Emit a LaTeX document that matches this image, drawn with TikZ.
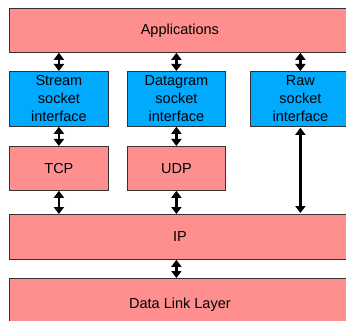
\documentclass[tikz,border=0pt]{standalone}
\usepackage{fontspec}
\setmainfont{Liberation Sans}
\usetikzlibrary{arrows.meta}

\definecolor{layerpink}{HTML}{FF8F8F}
\definecolor{sockblue}{HTML}{00AAFF}
\definecolor{edgegray}{HTML}{333333}

\tikzset{
  layer/.style={draw=edgegray, line width=0.8pt, fill=layerpink, inner sep=0pt,
    anchor=north west, align=center, font=\fontsize{14.5}{18}\selectfont},
  sockbox/.style={layer, fill=sockblue},
  link/.style={line width=2.4pt, {Triangle[width=10pt,length=7pt]}-{Triangle[width=10pt,length=7pt]}}
}

\begin{document}
\begin{tikzpicture}[x=1pt, y=-1pt]
  % Rahmen
  \useasboundingbox (0,0) rectangle (346,321);
  \clip (0,0) rectangle (346,321);

  % Anwendungen
  \node[layer, minimum width=341pt, minimum height=44pt] (app) at (9,8) {Applications};

  % Socket-Schnittstellen
  \node[sockbox, minimum width=99pt, minimum height=55pt] (stream) at (9,71) {Stream\\socket\\interface};
  \node[sockbox, minimum width=98pt, minimum height=55pt] (dgram) at (127,71) {Datagram\\socket\\interface};
  \node[sockbox, minimum width=100pt, minimum height=55pt] (raw) at (250,71) {Raw\\socket\\interface};

  % Transport
  \node[layer, minimum width=99pt, minimum height=44pt] (tcp) at (9,146) {TCP};
  \node[layer, minimum width=98pt, minimum height=44pt] (udp) at (127,146) {UDP};

  % Vermittlung und Sicherung
  \node[layer, minimum width=341pt, minimum height=45pt] (ip) at (9,214) {IP};
  \node[layer, minimum width=341pt, minimum height=52pt] (dll) at (9,278) {\raisebox{-4pt}{Data Link Layer}};

  % Pfeile
  \draw[link] (stream.north |- app.south) -- (stream.north);
  \draw[link] (dgram.north |- app.south) -- (dgram.north);
  \draw[link] (raw.north |- app.south) -- (raw.north);
  \draw[link] (stream.south) -- (tcp.north);
  \draw[link] (dgram.south) -- (udp.north);
  \draw[link] (tcp.south) -- (tcp.south |- ip.north);
  \draw[link] (udp.south) -- (udp.south |- ip.north);
  \draw[link, shorten <=1pt, shorten >=1pt] (raw.south) -- (raw.south |- ip.north);
  \draw[link] (udp.south |- ip.south) -- (udp.south |- dll.north);
\end{tikzpicture}
\end{document}
